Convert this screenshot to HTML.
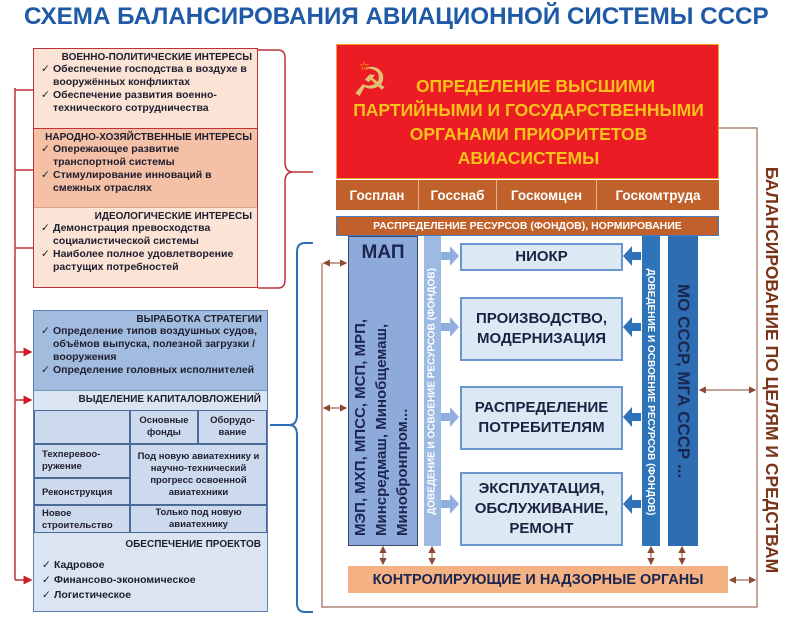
<!DOCTYPE html>
<html><head><meta charset="utf-8"><style>
*{margin:0;padding:0;box-sizing:border-box}
body{width:800px;height:625px;background:#fff;position:relative;overflow:hidden;font-family:"Liberation Sans","DejaVu Sans",sans-serif;font-weight:bold}
.a{position:absolute}
.h{text-align:right;font-size:10px;color:#1e1e2e;white-space:nowrap}
ul{list-style:none}
li{padding-left:14px;position:relative;font-size:10.5px;line-height:13px;color:#1e1e2e}
li:before{content:"✓";position:absolute;left:2px;font-weight:normal}
.c{display:flex;align-items:center;justify-content:center;text-align:center}
.box{background:#dde8f5;border:2px solid #6a96cf;color:#1b2240;font-size:15px;line-height:20px}
.g{border:1px solid #4b6a98;font-size:9.5px;line-height:12px;color:#1e1e2e}
</style></head><body>
<div class="a" style="left:24px;top:3px;width:770px;font-size:24.2px;color:#1f5aa6;white-space:nowrap">СХЕМА БАЛАНСИРОВАНИЯ АВИАЦИОННОЙ СИСТЕМЫ СССР</div>

<svg class="a" style="left:0;top:0" width="800" height="625">
<defs>
<marker id="br" markerWidth="6" markerHeight="6" refX="5" refY="3" orient="auto-start-reverse"><path d="M0,0 L6,3 L0,6z" fill="#8b4a36"/></marker>
<marker id="rr" markerWidth="6" markerHeight="6" refX="5" refY="3" orient="auto"><path d="M0,0 L6,3 L0,6z" fill="#c8202a"/></marker>
</defs>
<g stroke="#c0303a" stroke-width="1.5" fill="none">
<path d="M15,88 V580"/>
<path d="M15,90 H33 M15,170 H33 M15,248 H33"/>
<path d="M15,352 H31" marker-end="url(#rr)"/>
<path d="M15,400 H31" marker-end="url(#rr)"/>
<path d="M15,580 H31" marker-end="url(#rr)"/>
<path d="M258,50 H278 Q285,50 285,58 V162 Q285,172 293,172 H313 M293,172 Q285,172 285,182 V280 Q285,288 278,288 H258"/>
</g>
<path d="M313,243 H305 Q297,243 297,252 V415 Q297,425 289,425 H270 M289,425 Q297,425 297,435 V603 Q297,612 305,612 H313" stroke="#2f6db5" stroke-width="2" fill="none"/>
<g stroke="#a06a5a" stroke-width="1.2" fill="none">
<path d="M719,128 H757 V607 H322 V263"/>
<path d="M324,263 H346" marker-start="url(#br)" marker-end="url(#br)"/>
<path d="M324,408 H346" marker-start="url(#br)" marker-end="url(#br)"/>
<path d="M700,390 H755" marker-start="url(#br)" marker-end="url(#br)"/>
<path d="M730,580 H755" marker-start="url(#br)" marker-end="url(#br)"/>
<path d="M383,547 V564" marker-start="url(#br)" marker-end="url(#br)"/>
<path d="M432,547 V564" marker-start="url(#br)" marker-end="url(#br)"/>
<path d="M651,547 V564" marker-start="url(#br)" marker-end="url(#br)"/>
<path d="M682,547 V564" marker-start="url(#br)" marker-end="url(#br)"/>
</g>
<g fill="#8fb0de">
<path d="M441,252 H450 V246 L459,256 L450,266 V260 H441z"/>
<path d="M441,323 H450 V317 L459,327 L450,337 V331 H441z"/>
<path d="M441,413 H450 V407 L459,417 L450,427 V421 H441z"/>
<path d="M441,500 H450 V494 L459,504 L450,514 V508 H441z"/>
</g>
<g fill="#2e72b8">
<path d="M641,252 H632 V246 L623,256 L632,266 V260 H641z"/>
<path d="M641,323 H632 V317 L623,327 L632,337 V331 H641z"/>
<path d="M641,413 H632 V407 L623,417 L632,427 V421 H641z"/>
<path d="M641,500 H632 V494 L623,504 L632,514 V508 H641z"/>
</g>
</svg>

<div class="a" style="left:33px;top:48px;width:225px;height:240px;border:1.5px solid #c0303a"></div>
<div class="a" style="left:34px;top:49px;width:223px;height:79px;background:#fbe3d6;padding:3px 5px">
<div class="h">ВОЕННО-ПОЛИТИЧЕСКИЕ ИНТЕРЕСЫ</div>
<ul><li>Обеспечение господства в воздухе в вооружённых конфликтах</li><li>Обеспечение развития военно-технического сотрудничества</li></ul></div>
<div class="a" style="left:34px;top:128px;width:223px;height:80px;background:#f4c0a6;border-top:1.5px solid #c0303a;border-bottom:1px solid #d9a590;padding:3px 5px">
<div class="h">НАРОДНО-ХОЗЯЙСТВЕННЫЕ ИНТЕРЕСЫ</div>
<ul><li>Опережающее развитие<br>транспортной системы</li><li>Стимулирование инноваций в смежных отраслях</li></ul></div>
<div class="a" style="left:34px;top:208px;width:223px;height:79px;background:#fbe3d6;padding:3px 5px">
<div class="h">ИДЕОЛОГИЧЕСКИЕ ИНТЕРЕСЫ</div>
<ul><li>Демонстрация превосходства социалистической системы</li><li>Наиболее полное удовлетворение растущих потребностей</li></ul></div>

<div class="a" style="left:33px;top:310px;width:235px;height:302px;border:1.5px solid #5a7fb0;background:#dbe5f2"></div>
<div class="a" style="left:34px;top:311px;width:233px;height:79px;background:#a2bce0;padding:3px 5px">
<div class="h">ВЫРАБОТКА СТРАТЕГИИ</div>
<ul><li>Определение типов воздушных судов, объёмов выпуска, полезной загрузки / вооружения</li><li>Определение головных исполнителей</li></ul></div>
<div class="a" style="left:34px;top:390px;width:233px;height:20px;background:#dbe5f2;border-top:1px solid #7a98c4;padding:3px 6px"><div class="h">ВЫДЕЛЕНИЕ КАПИТАЛОВЛОЖЕНИЙ</div></div>
<div class="a g" style="left:34px;top:410px;width:96px;height:34px;background:#cddaed"></div>
<div class="a g c" style="left:130px;top:410px;width:68px;height:34px;background:#cddaed">Основные<br>фонды</div>
<div class="a g c" style="left:198px;top:410px;width:69px;height:34px;background:#cddaed">Оборудо-<br>вание</div>
<div class="a g" style="left:34px;top:444px;width:96px;height:34px;background:#cddaed;padding:4px 7px">Техперевоо-<br>ружение</div>
<div class="a g" style="left:34px;top:478px;width:96px;height:27px;background:#cddaed;padding:8px 7px">Реконструкция</div>
<div class="a g c" style="left:130px;top:444px;width:137px;height:61px;background:#cddaed">Под новую авиатехнику и научно-технический прогресс освоенной авиатехники</div>
<div class="a g" style="left:34px;top:505px;width:96px;height:28px;background:#cddaed;padding:2px 7px">Новое<br>строительство</div>
<div class="a g c" style="left:130px;top:505px;width:137px;height:28px;background:#cddaed">Только под новую<br>авиатехнику</div>
<div class="a" style="left:34px;top:533px;width:233px;height:78px;background:#dbe5f2;padding:6px 6px">
<div class="h" style="margin-bottom:8px">ОБЕСПЕЧЕНИЕ ПРОЕКТОВ</div>
<ul><li style="line-height:15px">Кадровое</li><li style="line-height:15px">Финансово-экономическое</li><li style="line-height:15px">Логистическое</li></ul></div>

<div class="a" style="left:336px;top:44px;width:383px;height:135px;background:#ec1c24;border:1px solid #f0a030"></div>
<div class="a" style="left:359px;top:59px;color:#f5c400;font-size:12px;font-weight:normal">☆</div>
<div class="a" style="left:352px;top:60px;color:#e2c070;font-size:40px;font-weight:normal;font-family:'DejaVu Sans',sans-serif">☭</div>
<div class="a" style="left:338px;top:74px;width:381px;text-align:center;color:#f7c21a;font-size:17.5px;line-height:24px;padding-left:14px">ОПРЕДЕЛЕНИЕ ВЫСШИМИ<br><span style="margin-left:-14px">ПАРТИЙНЫМИ И ГОСУДАРСТВЕННЫМИ</span><br><span style="margin-left:-14px">ОРГАНАМИ ПРИОРИТЕТОВ</span><br><span style="margin-left:-14px">АВИАСИСТЕМЫ</span></div>
<div class="a c" style="left:336px;top:180px;width:83px;height:30px;background:#c0602a;color:#fff;font-size:13.5px;border-right:1px solid #e8b090">Госплан</div>
<div class="a c" style="left:419px;top:180px;width:78px;height:30px;background:#c0602a;color:#fff;font-size:13.5px;border-right:1px solid #e8b090">Госснаб</div>
<div class="a c" style="left:497px;top:180px;width:100px;height:30px;background:#c0602a;color:#fff;font-size:13.5px;border-right:1px solid #e8b090">Госкомцен</div>
<div class="a c" style="left:597px;top:180px;width:122px;height:30px;background:#c0602a;color:#fff;font-size:13.5px">Госкомтруда</div>
<div class="a c" style="left:336px;top:216px;width:383px;height:20px;background:#c0602a;border:1.5px solid #4a78b8;color:#fff;font-size:10.5px">РАСПРЕДЕЛЕНИЕ РЕСУРСОВ (ФОНДОВ), НОРМИРОВАНИЕ</div>

<div class="a" style="left:348px;top:236px;width:70px;height:310px;background:#8eaadb;border:1.5px solid #3a4a6a"></div>
<div class="a" style="left:348px;top:242px;width:70px;text-align:center;font-size:19px;color:#1b2650">МАП</div>
<div class="a" style="left:228px;top:356px;width:310px;height:70px;transform:rotate(-90deg);font-size:15px;line-height:21px;color:#1b2650;padding:2px 0 0 10px;white-space:nowrap">МЭП, МХП, МПСС, МСП, МРП,<br>Минсредмаш, Минобщемаш,<br>Минобронпром...</div>
<div class="a" style="left:424px;top:236px;width:17px;height:310px;background:#9dbae3"></div>
<div class="a c" style="left:277px;top:383px;width:310px;height:17px;transform:rotate(-90deg);color:#fff;font-size:10px;white-space:nowrap">ДОВЕДЕНИЕ И ОСВОЕНИЕ РЕСУРСОВ (ФОНДОВ)</div>

<div class="a box c" style="left:460px;top:243px;width:163px;height:28px">НИОКР</div>
<div class="a box c" style="left:460px;top:297px;width:163px;height:64px">ПРОИЗВОДСТВО,<br>МОДЕРНИЗАЦИЯ</div>
<div class="a box c" style="left:460px;top:386px;width:163px;height:64px">РАСПРЕДЕЛЕНИЕ<br>ПОТРЕБИТЕЛЯМ</div>
<div class="a box c" style="left:460px;top:472px;width:163px;height:74px">ЭКСПЛУАТАЦИЯ,<br>ОБСЛУЖИВАНИЕ,<br>РЕМОНТ</div>

<div class="a" style="left:642px;top:236px;width:18px;height:310px;background:#2e74b8"></div>
<div class="a c" style="left:496px;top:383px;width:310px;height:18px;transform:rotate(90deg);color:#fff;font-size:10px;white-space:nowrap">ДОВЕДЕНИЕ И ОСВОЕНИЕ РЕСУРСОВ (ФОНДОВ)</div>
<div class="a" style="left:668px;top:236px;width:30px;height:310px;background:#2e6db2"></div>
<div class="a" style="left:528px;top:376px;width:310px;height:30px;transform:rotate(90deg);color:#1b2650;font-size:17px;line-height:30px;white-space:nowrap;padding-left:48px">МО СССР, МГА СССР ...</div>

<div class="a c" style="left:348px;top:566px;width:380px;height:27px;background:#f4b183;color:#1b2650;font-size:14.5px">КОНТРОЛИРУЮЩИЕ И НАДЗОРНЫЕ ОРГАНЫ</div>

<div class="a" style="left:562px;top:357px;width:420px;height:26px;transform:rotate(90deg);color:#7a3418;font-size:17.5px;line-height:26px;white-space:nowrap;text-align:center">БАЛАНСИРОВАНИЕ ПО ЦЕЛЯМ И СРЕДСТВАМ</div>
</body></html>
